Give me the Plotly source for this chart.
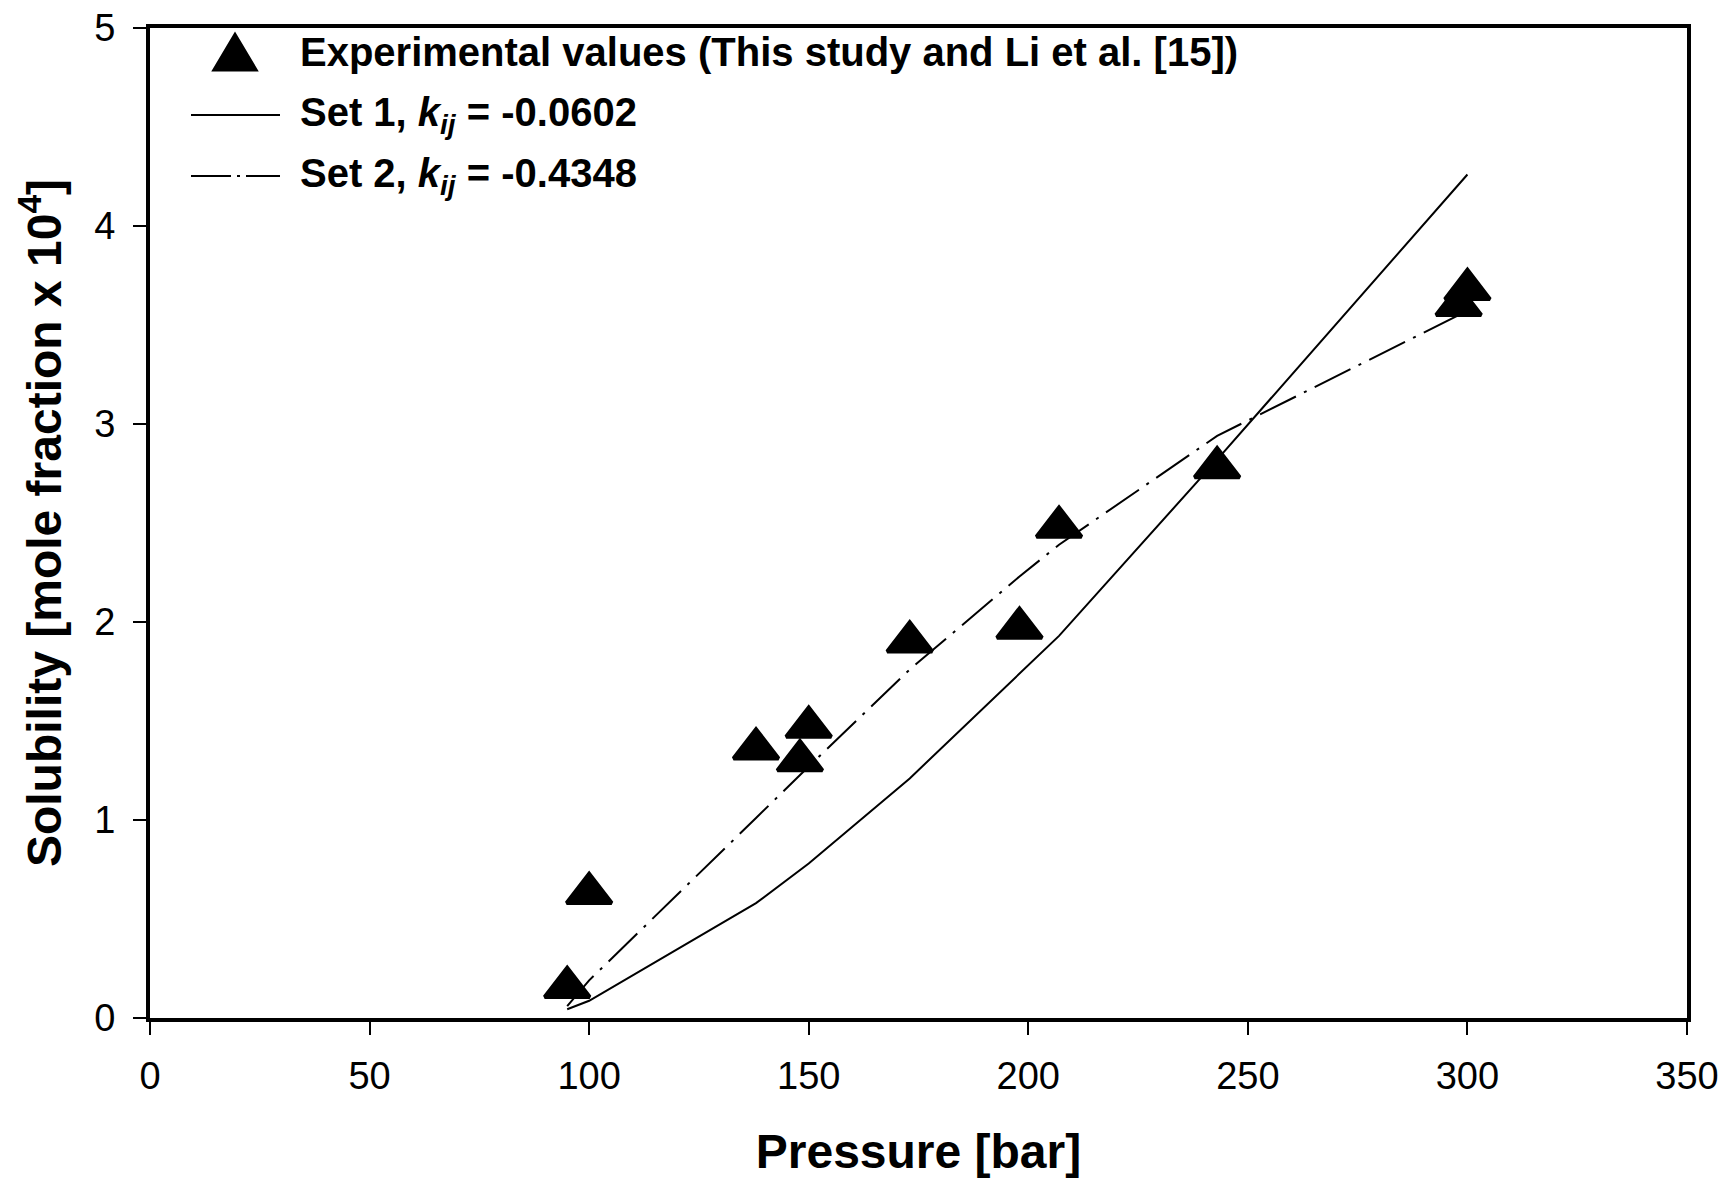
import plotly.graph_objects as go

# Data
pressure_exp = [95, 100, 138, 148, 150, 173, 198, 207, 243, 298, 300]
solubility_exp = [0.155, 0.63, 1.36, 1.30, 1.47, 1.90, 1.97, 2.48, 2.78, 3.60, 3.68]

pressure_model = [95, 100, 138, 148, 150, 173, 198, 207, 243, 298, 300]
set1_values = [0.044, 0.087, 0.58, 0.75, 0.78, 1.21, 1.74, 1.93, 2.82, 4.21, 4.26]
set2_values = [0.06, 0.19, 1.01, 1.23, 1.27, 1.76, 2.23, 2.39, 2.94, 3.55, 3.58]

x_ticks = [0, 50, 100, 150, 200, 250, 300, 350]
y_ticks = [0, 1, 2, 3, 4, 5]

legend_labels = [
    "<b>Experimental values (This study and Li et al. [15])</b>",
    "<b>Set 1, <i>k</i><sub><i>ij</i></sub> = -0.0602</b>",
    "<b>Set 2, <i>k</i><sub><i>ij</i></sub> = -0.4348</b>",
]

FONT = "Liberation Sans, Arial, sans-serif"
W, H = 1724, 1178
L, R, T, B = 150, 37, 28, 160
PW, PH = W - L - R, H - T - B


def px(x):
    return (x - L) / PW


def py(y):
    return (H - B - y) / PH


DASHDOT = "40px,9px,3px,9px"

fig = go.Figure()
fig.add_trace(go.Scatter(x=pressure_model, y=set1_values, mode="lines",
                         line=dict(color="black", width=2), showlegend=False))
fig.add_trace(go.Scatter(x=pressure_model, y=set2_values, mode="lines",
                         line=dict(color="black", width=2, dash=DASHDOT), showlegend=False))
fig.add_trace(go.Scatter(x=pressure_exp, y=solubility_exp, mode="markers",
                         marker=dict(symbol="triangle-up", size=39, color="black",
                                     line=dict(color="black", width=4)),
                         showlegend=False))

# manual legend
rows_y = [52, 115, 176]
text_x = 298
tri_cx, tri_w, tri_h = 235, 44, 37
x0, x1 = px(tri_cx - tri_w / 2), px(tri_cx + tri_w / 2)
xc = px(tri_cx)
yb, yt = py(rows_y[0] + tri_h / 2), py(rows_y[0] - tri_h / 2)
fig.add_shape(type="path", xref="paper", yref="paper",
              path=f"M {x0},{yb} L {x1},{yb} L {xc},{yt} Z",
              fillcolor="black", line=dict(color="black", width=2))
fig.add_shape(type="line", xref="paper", yref="paper",
              x0=px(191), x1=px(280), y0=py(rows_y[1]), y1=py(rows_y[1]),
              line=dict(color="black", width=2))
fig.add_shape(type="line", xref="paper", yref="paper",
              x0=px(191), x1=px(280), y0=py(rows_y[2]), y1=py(rows_y[2]),
              line=dict(color="black", width=2, dash="40px,6px,3px,6px"))
for lab, ry in zip(legend_labels, rows_y):
    fig.add_annotation(text=lab, xref="paper", yref="paper", x=px(text_x), y=py(ry),
                       xanchor="left", yanchor="middle", showarrow=False,
                       font=dict(family=FONT, size=40, color="black"))

axis_common = dict(showgrid=False, zeroline=False, showline=True, linecolor="black",
                   linewidth=4, mirror=True, ticks="outside", ticklen=13, tickwidth=2,
                   tickcolor="black", tickfont=dict(family=FONT, size=38, color="black"),
                   automargin=False, ticklabeloverflow="allow")

fig.update_layout(
    width=W, height=H,
    margin=dict(l=L, r=R, t=T, b=B, autoexpand=False),
    paper_bgcolor="white", plot_bgcolor="white",
    xaxis=dict(range=[0, 350], tickvals=x_ticks, ticktext=[str(v) for v in x_ticks],
               title=dict(text="<b>Pressure [bar]</b>",
                          font=dict(family=FONT, size=48, color="black"), standoff=40),
               ticklabelstandoff=8,
               **axis_common),
    yaxis=dict(range=[0, 5], tickvals=y_ticks, ticktext=[str(v) for v in y_ticks],
               title=dict(text="<b>Solubility [mole fraction x 10<sup>4</sup>]</b>",
                          font=dict(family=FONT, size=48, color="black"), standoff=18),
               ticklabelstandoff=10,
               **axis_common),
    showlegend=False,
)

fig.write_html("out.html")
